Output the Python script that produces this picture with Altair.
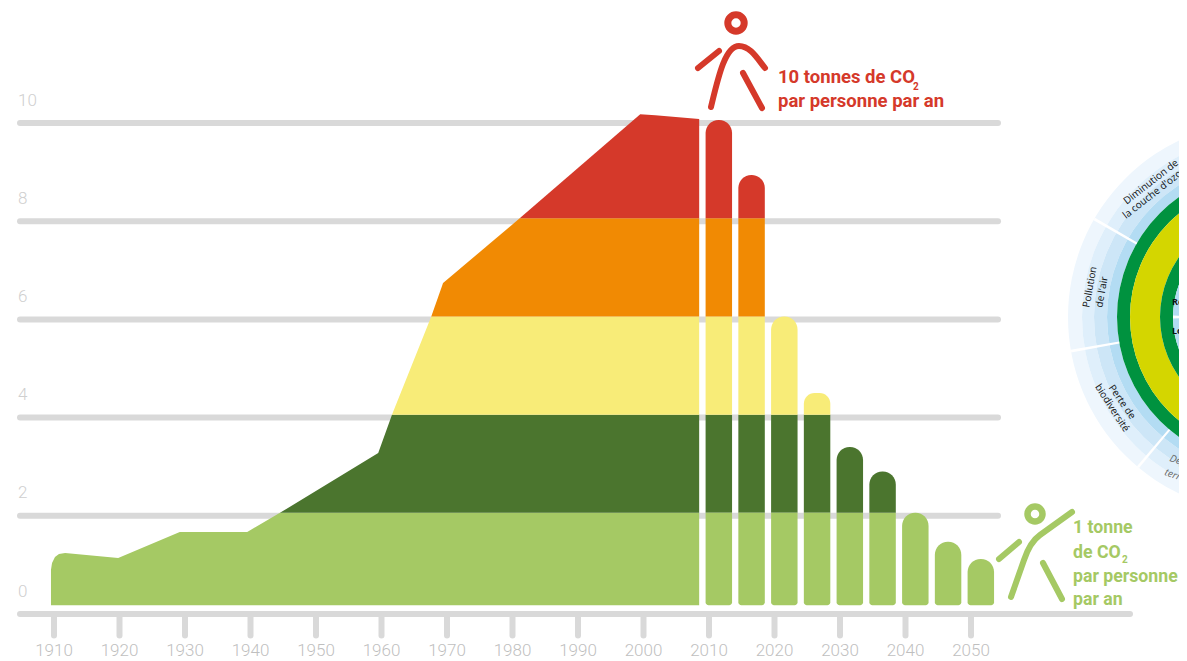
import altair as alt
import pandas as pd

# ---- data (year, tonnes of CO2 per person per year) ----
profile_years = [1909.54, 1909.7, 1910.15, 1910.76, 1911.7, 1919.8, 1929.2, 1939.5, 1944.5, 1959.5, 1961.6, 1967.6, 1969.4, 1981.1, 1999.5, 2001.8, 2008.5]
profile_vals = [0.90, 1.04, 1.16, 1.22, 1.24, 1.14, 1.67, 1.67, 2.06, 3.28, 4.06, 6.06, 6.74, 8.06, 10.18, 10.16, 10.08]
bar_years = [2011.5, 2016.5, 2021.5, 2026.5, 2031.5, 2036.5, 2041.5, 2046.5, 2051.5]
bar_tops = [10.06, 8.94, 6.06, 4.50, 3.40, 2.90, 2.06, 1.47, 1.12]
band_edges = [0.18, 2.06, 4.06, 6.06, 8.06, 99]
band_colors = ["#a5c964", "#4b752e", "#f8ec78", "#f18a03", "#d5392a"]
grid_vals = [0, 2, 4, 6, 8, 10]
tick_years = list(range(1910, 2051, 10))

FONT = "Roboto"
GREY = "#d9d9d9"
LABEL = "#bfbfbf"
RED = "#d5392a"
GREEN = "#a5c964"

# canvas <-> data conversion, used only to place annotations
KX, KY = 6.55, 49.1
def yr(px): return 1910 + (px - 54) / KX
def val(py): return (614 - py) / KY

W, H = 1171, 653
xs = alt.Scale(domain=[yr(8), yr(8 + W)], nice=False, zero=False)
ys = alt.Scale(domain=[val(8 + H), val(8)], nice=False, zero=False)
X = lambda f="x": alt.X(f"{f}:Q", scale=xs, axis=None, title=None)
Y = lambda f="y": alt.Y(f"{f}:Q", scale=ys, axis=None, title=None)

layers = []

# grid lines
grid = pd.DataFrame({"y": grid_vals, "x": [yr(20)] * 6,
                     "x2": [yr(1130) if v == 0 else yr(998) for v in grid_vals]})
layers.append(alt.Chart(grid).mark_rule(color=GREY, strokeWidth=6, strokeCap="round").encode(
    x=X(), x2="x2:Q", y=Y()))
ticks = pd.DataFrame({"x": tick_years, "y": [0] * len(tick_years), "y2": [-0.44] * len(tick_years)})
layers.append(alt.Chart(ticks).mark_rule(color=GREY, strokeWidth=6, strokeCap="round").encode(
    x=X(), y=Y(), y2="y2:Q"))

# historic area, one band per colour
for lo, hi, col in zip(band_edges[:-1], band_edges[1:], band_colors):
    rows = [{"x": x, "y": min(v, hi), "y2": lo} for x, v in zip(profile_years, profile_vals) if v >= lo]
    layers.append(alt.Chart(pd.DataFrame(rows)).mark_area(color=col).encode(x=X(), y=Y(), y2="y2:Q"))

# forecast bars, split over the colour bands
rows = []
for c, top in zip(bar_years, bar_tops):
    for i, (lo, hi) in enumerate(zip(band_edges[:-1], band_edges[1:])):
        if top <= lo:
            continue
        is_top = top <= hi
        rows.append({"x": c - 2.02, "x2": c + 2.02, "y": min(top, hi), "y2": lo,
                     "band": str(i), "kind": ("t" if is_top else "") + ("b" if i == 0 else "")})
bars = pd.DataFrame(rows)
col_enc = alt.Color("band:N", scale=alt.Scale(domain=["0", "1", "2", "3", "4"], range=band_colors), legend=None)
for kind, kw in {
    "": {},
    "b": dict(cornerRadiusBottomLeft=3, cornerRadiusBottomRight=3),
    "t": dict(cornerRadiusTopLeft=13, cornerRadiusTopRight=13),
    "tb": dict(cornerRadiusTopLeft=13, cornerRadiusTopRight=13, cornerRadiusBottomLeft=3, cornerRadiusBottomRight=3),
}.items():
    layers.append(alt.Chart(bars[bars.kind == kind]).mark_bar(**kw).encode(x=X(), x2="x2:Q", y=Y(), y2="y2:Q", color=col_enc))

# axis labels
ylab = pd.DataFrame({"y": grid_vals, "x": [yr(18)] * 6, "t": [str(v) for v in grid_vals]})
layers.append(alt.Chart(ylab).mark_text(font=FONT, fontSize=17, fontWeight=300, color="#cfcfcf", align="left", baseline="middle", dy=-22.5).encode(
    x=X(), y=Y(), text="t:N"))
xlab = pd.DataFrame({"x": tick_years, "y": [val(650.5)] * len(tick_years), "t": [str(v) for v in tick_years]})
layers.append(alt.Chart(xlab).mark_text(font=FONT, fontSize=17, fontWeight=300, color=LABEL, baseline="middle").encode(
    x=X(), y=Y(), text="t:N"))

# annotations
def note(items, color, size, weight="bold", **kw):
    df = pd.DataFrame([{"x": yr(a), "y": val(b), "t": t} for a, b, t in items])
    return alt.Chart(df).mark_text(font=FONT, fontSize=size, fontWeight=weight, color=color, align="left",
                                   baseline="alphabetic", **kw).encode(x=X(), y=Y(), text="t:N")

layers.append(note([(778, 83, "10 tonnes de CO"), (778, 107, "par personne par an")], RED, 18.5))
layers.append(note([(913, 90, "2")], RED, 10))
layers.append(note([(1073, 533, "1 tonne"), (1073, 558, "de CO"), (1073, 582, "par personne"), (1073, 605, "par an")], GREEN, 17.7))
layers.append(note([(1122, 563, "2")], GREEN, 10))

# pictograms: drawn as symbol shapes (size 4 => path units are pixels)
def icon(px, py, path, color, sw):
    df = pd.DataFrame({"x": [yr(px)], "y": [val(py)]})
    return alt.Chart(df).mark_point(shape=path, size=4, filled=False, stroke=color, strokeWidth=sw,
                                    strokeCap="round", opacity=1).encode(x=X(), y=Y())

ring = "M8.2,0 A8.2,8.2 0 1 1 -8.2,0 A8.2,8.2 0 1 1 8.2,0 Z"
layers.append(icon(736, 23, ring, RED, 7))
layers.append(icon(730, 75,
    "M-19,32 C-12,3 -5,-29 9,-29 C20,-29 27,-17 35,-7 M-32,-7 L-11,-24 M13,-2 L32,33", RED, 6))
layers.append(icon(1035, 514, "M7.5,0 A7.5,7.5 0 1 1 -7.5,0 A7.5,7.5 0 1 1 7.5,0 Z", GREEN, 6.5))
layers.append(icon(1030, 555,
    "M-19,42 L-6,5 Q0,-13 10,-20 L42,-43 M-31,4 L-11,-13 M13,8 L32,44", GREEN, 6))

# planetary-boundaries wheel, cut by the picture's edge
centre = pd.DataFrame({"x": [yr(1264)], "y": [val(317)]})
rings = [(196, 182, "#eef6fd"), (182, 170, "#dfeffb"), (170, 157, "#cde6f7"), (157, 147, "#b3dcf3"),
         (147, 134, "#00923f"), (134, 104, "#d4d600"), (104, 91, "#00923f"), (91, 0, "#b3dcf3")]
for r, r2, c in rings:
    layers.append(alt.Chart(centre).mark_arc(radius=r, radius2=r2, theta=0, theta2=6.2832, color=c).encode(x=X(), y=Y()))
rad = 3.14159265 / 180
for a, r, r2, d in [(220, 196, 147, 0.4), (260, 196, 147, 0.4), (300, 196, 147, 0.4),
                    (240, 91, 60, 0.9), (270, 91, 60, 0.9), (300, 91, 60, 0.9)]:
    layers.append(alt.Chart(centre).mark_arc(radius=r, radius2=r2, theta=(a - d) * rad, theta2=(a + d) * rad, color="white").encode(x=X(), y=Y()))

def wheel_text(px, py, t, angle, align="center", color="#111111", size=10, style="normal", weight="normal"):
    df = pd.DataFrame({"x": [yr(px)], "y": [val(py)], "t": [t]})
    return alt.Chart(df).mark_text(font="Open Sans", fontSize=size, color=color, angle=angle, align=align,
                                   baseline="middle", fontStyle=style, fontWeight=weight).encode(x=X(), y=Y(), text="t:N")

layers += [
    wheel_text(1151, 182, "Diminution de", 322),
    wheel_text(1157, 191, "la couche d'ozone", 322),
    wheel_text(1090, 287, "Pollution", 280),
    wheel_text(1102, 292, "de l'air", 280),
    wheel_text(1122, 402, "Perte de", 55),
    wheel_text(1112, 408, "biodiversité", 57),
    wheel_text(1170, 458, "Dégradation des", 20, "left", "#666666", 10, "italic"),
    wheel_text(1165, 472, "terres", 20, "left", "#666666", 10, "italic"),
    wheel_text(1172, 302, "Revenu", 0, "left", "#111111", 9, weight="bold"),
    wheel_text(1172, 331, "Logement", 0, "left", "#111111", 9, weight="bold"),
]

chart = alt.layer(*layers).properties(
    width=W, height=H, padding=0, autosize=alt.AutoSizeParams(type="none"), background="white"
).configure_view(stroke=None)
chart.save("out.html", embed_options={"renderer": "svg", "actions": False})
